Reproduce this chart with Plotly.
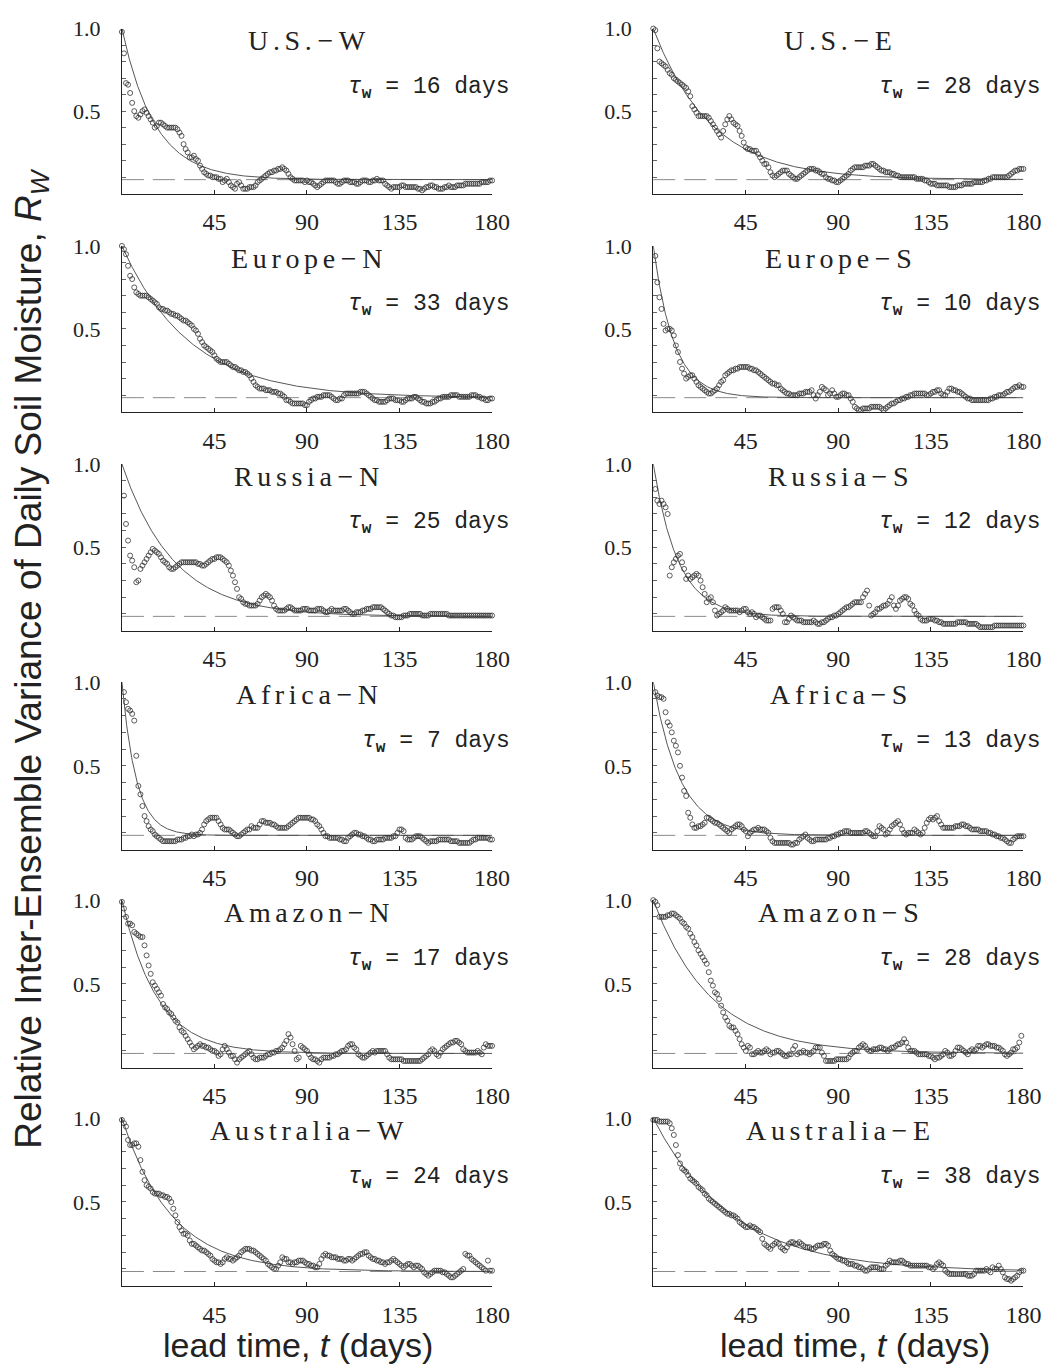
import numpy as np
import plotly.graph_objects as go

# Lead time in days (0 .. 180)
lead_days = list(range(181))

# Relative inter-ensemble variance R_W for each region, one value per day
us_w = [0.98, 0.85, 0.67, 0.66, 0.61, 0.55, 0.50, 0.47, 0.46, 0.48,
        0.50, 0.51, 0.49, 0.47, 0.45, 0.43, 0.40, 0.41, 0.43, 0.43,
        0.42, 0.41, 0.40, 0.40, 0.40, 0.40, 0.40, 0.39, 0.37, 0.35,
        0.30, 0.27, 0.25, 0.22, 0.22, 0.23, 0.21, 0.20, 0.17, 0.15,
        0.13, 0.12, 0.11, 0.11, 0.10, 0.10, 0.10, 0.09, 0.09, 0.07,
        0.08, 0.09, 0.07, 0.05, 0.04, 0.03, 0.06, 0.07, 0.05, 0.03,
        0.03, 0.03, 0.04, 0.04, 0.04, 0.05, 0.07, 0.08, 0.09, 0.10,
        0.11, 0.12, 0.13, 0.13, 0.14, 0.14, 0.15, 0.15, 0.16, 0.15,
        0.14, 0.12, 0.10, 0.09, 0.08, 0.08, 0.08, 0.08, 0.08, 0.07,
        0.08, 0.07, 0.07, 0.06, 0.05, 0.04, 0.05, 0.06, 0.07, 0.08,
        0.08, 0.08, 0.08, 0.08, 0.07, 0.06, 0.06, 0.07, 0.08, 0.08,
        0.08, 0.07, 0.07, 0.07, 0.06, 0.06, 0.07, 0.08, 0.08, 0.08,
        0.07, 0.07, 0.08, 0.08, 0.09, 0.08, 0.08, 0.08, 0.06, 0.05,
        0.04, 0.03, 0.04, 0.04, 0.04, 0.04, 0.05, 0.05, 0.04, 0.04,
        0.04, 0.04, 0.04, 0.04, 0.03, 0.03, 0.02, 0.03, 0.04, 0.04,
        0.05, 0.05, 0.04, 0.04, 0.03, 0.03, 0.03, 0.04, 0.04, 0.05,
        0.04, 0.04, 0.04, 0.05, 0.05, 0.05, 0.05, 0.06, 0.06, 0.06,
        0.06, 0.06, 0.06, 0.06, 0.06, 0.07, 0.07, 0.07, 0.07, 0.08,
        0.08]

us_e = [1.00, 0.99, 0.88, 0.80, 0.79, 0.78, 0.77, 0.75, 0.73, 0.72,
        0.70, 0.69, 0.68, 0.67, 0.66, 0.65, 0.64, 0.62, 0.59, 0.53,
        0.51, 0.49, 0.47, 0.47, 0.47, 0.47, 0.47, 0.46, 0.44, 0.42,
        0.40, 0.38, 0.36, 0.34, 0.38, 0.42, 0.45, 0.47, 0.45, 0.43,
        0.42, 0.41, 0.38, 0.35, 0.31, 0.28, 0.27, 0.27, 0.26, 0.26,
        0.26, 0.24, 0.22, 0.20, 0.18, 0.18, 0.16, 0.13, 0.11, 0.10,
        0.11, 0.12, 0.13, 0.14, 0.14, 0.14, 0.12, 0.11, 0.10, 0.09,
        0.09, 0.10, 0.11, 0.12, 0.13, 0.14, 0.15, 0.15, 0.15, 0.14,
        0.14, 0.13, 0.12, 0.12, 0.10, 0.09, 0.09, 0.08, 0.08, 0.07,
        0.07, 0.08, 0.09, 0.10, 0.11, 0.12, 0.14, 0.15, 0.16, 0.16,
        0.16, 0.16, 0.16, 0.17, 0.17, 0.17, 0.18, 0.18, 0.17, 0.16,
        0.15, 0.14, 0.14, 0.13, 0.13, 0.13, 0.12, 0.12, 0.11, 0.11,
        0.10, 0.10, 0.10, 0.10, 0.10, 0.10, 0.10, 0.10, 0.09, 0.09,
        0.09, 0.09, 0.08, 0.08, 0.07, 0.06, 0.06, 0.06, 0.05, 0.05,
        0.05, 0.05, 0.05, 0.05, 0.04, 0.04, 0.04, 0.04, 0.05, 0.05,
        0.05, 0.06, 0.06, 0.06, 0.06, 0.06, 0.07, 0.07, 0.07, 0.07,
        0.07, 0.08, 0.08, 0.09, 0.09, 0.10, 0.10, 0.10, 0.10, 0.10,
        0.10, 0.10, 0.10, 0.11, 0.12, 0.13, 0.14, 0.14, 0.15, 0.15,
        0.15]

europe_n = [1.00, 0.98, 0.95, 0.88, 0.82, 0.80, 0.75, 0.72, 0.71, 0.70,
            0.70, 0.70, 0.70, 0.69, 0.68, 0.67, 0.66, 0.65, 0.63, 0.62,
            0.62, 0.61, 0.61, 0.60, 0.59, 0.59, 0.58, 0.58, 0.57, 0.56,
            0.55, 0.55, 0.54, 0.53, 0.52, 0.50, 0.49, 0.47, 0.44, 0.42,
            0.40, 0.39, 0.38, 0.37, 0.36, 0.34, 0.32, 0.31, 0.30, 0.30,
            0.30, 0.30, 0.29, 0.28, 0.27, 0.27, 0.26, 0.25, 0.25, 0.24,
            0.24, 0.23, 0.22, 0.20, 0.18, 0.16, 0.15, 0.14, 0.14, 0.14,
            0.13, 0.13, 0.13, 0.12, 0.12, 0.12, 0.11, 0.11, 0.10, 0.09,
            0.07, 0.07, 0.06, 0.05, 0.05, 0.05, 0.05, 0.05, 0.05, 0.04,
            0.04, 0.06, 0.07, 0.08, 0.08, 0.09, 0.09, 0.09, 0.10, 0.10,
            0.10, 0.10, 0.09, 0.08, 0.07, 0.07, 0.08, 0.08, 0.10, 0.11,
            0.11, 0.11, 0.11, 0.11, 0.11, 0.11, 0.12, 0.12, 0.12, 0.11,
            0.10, 0.09, 0.08, 0.07, 0.07, 0.06, 0.06, 0.06, 0.06, 0.07,
            0.08, 0.08, 0.08, 0.07, 0.07, 0.07, 0.06, 0.06, 0.07, 0.08,
            0.08, 0.08, 0.09, 0.09, 0.08, 0.07, 0.06, 0.06, 0.05, 0.05,
            0.05, 0.06, 0.06, 0.07, 0.08, 0.08, 0.09, 0.09, 0.09, 0.09,
            0.10, 0.10, 0.10, 0.10, 0.09, 0.09, 0.09, 0.09, 0.09, 0.09,
            0.10, 0.10, 0.10, 0.09, 0.09, 0.08, 0.08, 0.07, 0.07, 0.08,
            0.08]

europe_s = [None, 0.94, 0.78, 0.69, 0.62, 0.53, 0.49, 0.50, 0.50, 0.49,
            0.46, 0.40, 0.36, 0.30, 0.26, 0.23, 0.20, 0.21, 0.22, 0.22,
            0.20, 0.18, 0.16, 0.15, 0.14, 0.13, 0.12, 0.11, 0.11, 0.12,
            0.13, 0.14, 0.16, 0.18, 0.19, 0.22, 0.23, 0.24, 0.25, 0.25,
            0.26, 0.26, 0.27, 0.27, 0.27, 0.27, 0.27, 0.26, 0.26, 0.25,
            0.25, 0.24, 0.23, 0.22, 0.21, 0.20, 0.19, 0.18, 0.17, 0.17,
            0.16, 0.16, 0.14, 0.13, 0.12, 0.11, 0.11, 0.10, 0.10, 0.10,
            0.10, 0.11, 0.11, 0.11, 0.12, 0.12, 0.12, 0.13, 0.10, 0.08,
            0.10, 0.12, 0.15, 0.14, 0.13, 0.10, 0.11, 0.13, 0.11, 0.09,
            0.09, 0.10, 0.11, 0.11, 0.10, 0.10, 0.08, 0.06, 0.03, 0.02,
            0.01, 0.01, 0.02, 0.02, 0.02, 0.02, 0.03, 0.03, 0.03, 0.03,
            0.03, 0.02, 0.01, 0.02, 0.03, 0.04, 0.05, 0.05, 0.06, 0.07,
            0.07, 0.08, 0.08, 0.09, 0.09, 0.10, 0.10, 0.11, 0.11, 0.11,
            0.11, 0.11, 0.11, 0.10, 0.10, 0.11, 0.12, 0.12, 0.13, 0.13,
            0.11, 0.10, 0.10, 0.12, 0.14, 0.14, 0.13, 0.13, 0.12, 0.12,
            0.11, 0.10, 0.09, 0.08, 0.08, 0.07, 0.07, 0.07, 0.07, 0.07,
            0.07, 0.07, 0.07, 0.07, 0.08, 0.08, 0.09, 0.09, 0.10, 0.10,
            0.10, 0.11, 0.12, 0.12, 0.13, 0.14, 0.15, 0.15, 0.16, 0.15,
            0.15]

russia_n = [None, 0.81, 0.64, 0.54, 0.45, 0.42, 0.38, 0.29, 0.30, 0.37,
            0.39, 0.41, 0.43, 0.45, 0.47, 0.49, 0.48, 0.47, 0.46, 0.44,
            0.42, 0.41, 0.40, 0.38, 0.37, 0.37, 0.38, 0.39, 0.40, 0.41,
            0.41, 0.41, 0.41, 0.41, 0.41, 0.41, 0.41, 0.40, 0.40, 0.39,
            0.39, 0.40, 0.41, 0.42, 0.43, 0.43, 0.44, 0.44, 0.44, 0.43,
            0.42, 0.41, 0.39, 0.36, 0.33, 0.29, 0.25, 0.20, 0.19, 0.17,
            0.16, 0.16, 0.15, 0.15, 0.15, 0.15, 0.16, 0.18, 0.20, 0.21,
            0.22, 0.21, 0.20, 0.18, 0.15, 0.13, 0.12, 0.12, 0.12, 0.12,
            0.13, 0.14, 0.14, 0.13, 0.12, 0.12, 0.12, 0.12, 0.13, 0.13,
            0.13, 0.12, 0.12, 0.12, 0.12, 0.13, 0.13, 0.13, 0.12, 0.11,
            0.11, 0.12, 0.13, 0.12, 0.12, 0.12, 0.12, 0.12, 0.13, 0.13,
            0.12, 0.11, 0.10, 0.10, 0.11, 0.11, 0.11, 0.12, 0.12, 0.13,
            0.13, 0.13, 0.14, 0.14, 0.14, 0.14, 0.14, 0.13, 0.12, 0.11,
            0.10, 0.09, 0.09, 0.08, 0.08, 0.08, 0.08, 0.09, 0.09, 0.09,
            0.10, 0.10, 0.10, 0.10, 0.10, 0.10, 0.09, 0.09, 0.09, 0.09,
            0.10, 0.10, 0.10, 0.10, 0.10, 0.10, 0.10, 0.10, 0.10, 0.09,
            0.09, 0.09, 0.09, 0.09, 0.09, 0.09, 0.09, 0.09, 0.09, 0.09,
            0.09, 0.09, 0.09, 0.09, 0.09, 0.09, 0.09, 0.09, 0.09, 0.09,
            0.09]

russia_s = [None, 0.85, 0.78, 0.76, 0.78, 0.76, 0.74, 0.70, 0.33, 0.38,
            0.41, 0.43, 0.45, 0.46, 0.41, 0.37, 0.31, 0.33, 0.31, 0.32,
            0.33, 0.34, 0.33, 0.30, 0.26, 0.22, 0.17, 0.19, 0.20, 0.17,
            0.12, 0.09, 0.10, 0.11, 0.12, 0.14, 0.13, 0.12, 0.12, 0.12,
            0.12, 0.12, 0.11, 0.12, 0.13, 0.13, 0.11, 0.10, 0.11, 0.10,
            0.08, 0.09, 0.09, 0.08, 0.07, 0.06, 0.06, 0.06, 0.13, 0.14,
            0.14, 0.14, 0.12, 0.10, 0.05, 0.05, 0.07, 0.09, 0.08, 0.07,
            0.06, 0.06, 0.06, 0.05, 0.05, 0.05, 0.05, 0.05, 0.06, 0.05,
            0.04, 0.04, 0.05, 0.05, 0.06, 0.07, 0.08, 0.08, 0.09, 0.09,
            0.10, 0.11, 0.12, 0.13, 0.14, 0.14, 0.15, 0.16, 0.17, 0.17,
            0.17, 0.17, 0.20, 0.22, 0.24, 0.15, 0.09, 0.10, 0.11, 0.13,
            0.13, 0.14, 0.15, 0.15, 0.16, 0.18, 0.20, 0.15, 0.13, 0.15,
            0.18, 0.19, 0.20, 0.20, 0.19, 0.16, 0.15, 0.12, 0.10, 0.09,
            0.07, 0.06, 0.06, 0.06, 0.07, 0.07, 0.07, 0.06, 0.06, 0.05,
            0.05, 0.04, 0.04, 0.04, 0.04, 0.04, 0.04, 0.04, 0.05, 0.05,
            0.05, 0.05, 0.05, 0.04, 0.04, 0.04, 0.04, 0.04, 0.03, 0.02,
            0.02, 0.02, 0.02, 0.02, 0.02, 0.02, 0.03, 0.03, 0.03, 0.03,
            0.03, 0.03, 0.03, 0.03, 0.03, 0.03, 0.03, 0.03, 0.03, 0.03,
            0.03]

africa_n = [None, 0.94, 0.88, 0.84, 0.83, 0.81, 0.77, 0.56, 0.38, 0.33,
            0.26, 0.20, 0.17, 0.14, 0.12, 0.11, 0.09, 0.08, 0.07, 0.06,
            0.05, 0.05, 0.05, 0.05, 0.05, 0.05, 0.05, 0.06, 0.06, 0.06,
            0.07, 0.07, 0.08, 0.08, 0.09, 0.08, 0.09, 0.09, 0.10, 0.12,
            0.15, 0.17, 0.18, 0.19, 0.19, 0.19, 0.19, 0.17, 0.15, 0.13,
            0.12, 0.12, 0.12, 0.11, 0.10, 0.09, 0.08, 0.08, 0.09, 0.10,
            0.11, 0.12, 0.12, 0.14, 0.13, 0.13, 0.13, 0.15, 0.17, 0.17,
            0.16, 0.16, 0.16, 0.15, 0.15, 0.14, 0.13, 0.13, 0.13, 0.13,
            0.13, 0.14, 0.15, 0.16, 0.17, 0.18, 0.19, 0.19, 0.19, 0.19,
            0.19, 0.19, 0.18, 0.18, 0.17, 0.15, 0.14, 0.12, 0.10, 0.08,
            0.08, 0.07, 0.07, 0.07, 0.07, 0.07, 0.06, 0.06, 0.05, 0.05,
            0.07, 0.08, 0.09, 0.10, 0.10, 0.09, 0.09, 0.08, 0.08, 0.07,
            0.06, 0.06, 0.05, 0.05, 0.06, 0.06, 0.06, 0.06, 0.07, 0.07,
            0.07, 0.07, 0.08, 0.08, 0.10, 0.12, 0.12, 0.11, 0.07, 0.06,
            0.06, 0.06, 0.07, 0.08, 0.08, 0.08, 0.07, 0.06, 0.05, 0.04,
            0.05, 0.05, 0.05, 0.05, 0.06, 0.06, 0.06, 0.06, 0.06, 0.06,
            0.05, 0.05, 0.05, 0.05, 0.04, 0.04, 0.04, 0.04, 0.04, 0.04,
            0.05, 0.06, 0.06, 0.07, 0.07, 0.07, 0.07, 0.07, 0.07, 0.06,
            0.06]

africa_s = [None, 0.94, 0.92, 0.91, 0.91, 0.90, 0.82, 0.76, 0.74, 0.70,
            0.65, 0.62, 0.58, 0.50, 0.43, 0.35, 0.32, 0.22, 0.19, 0.15,
            0.13, 0.13, 0.14, 0.14, 0.15, 0.16, 0.19, 0.19, 0.18, 0.17,
            0.16, 0.16, 0.15, 0.14, 0.13, 0.12, 0.11, 0.10, 0.12, 0.13,
            0.14, 0.15, 0.15, 0.14, 0.12, 0.11, 0.08, 0.10, 0.11, 0.12,
            0.12, 0.13, 0.12, 0.12, 0.12, 0.11, 0.10, 0.07, 0.05, 0.04,
            0.04, 0.04, 0.04, 0.04, 0.04, 0.04, 0.04, 0.03, 0.03, 0.04,
            0.04, 0.06, 0.07, 0.08, 0.09, 0.07, 0.06, 0.05, 0.05, 0.06,
            0.06, 0.06, 0.06, 0.06, 0.06, 0.07, 0.07, 0.08, 0.08, 0.09,
            0.09, 0.10, 0.10, 0.11, 0.11, 0.11, 0.10, 0.10, 0.10, 0.10,
            0.10, 0.10, 0.10, 0.11, 0.11, 0.10, 0.09, 0.08, 0.08, 0.11,
            0.14, 0.13, 0.12, 0.09, 0.10, 0.12, 0.14, 0.15, 0.16, 0.17,
            0.15, 0.12, 0.10, 0.09, 0.10, 0.10, 0.10, 0.12, 0.11, 0.10,
            0.09, 0.10, 0.13, 0.16, 0.18, 0.19, 0.18, 0.19, 0.20, 0.17,
            0.15, 0.13, 0.13, 0.13, 0.13, 0.13, 0.13, 0.14, 0.14, 0.14,
            0.15, 0.15, 0.14, 0.14, 0.13, 0.12, 0.12, 0.12, 0.12, 0.11,
            0.11, 0.11, 0.11, 0.10, 0.10, 0.09, 0.09, 0.08, 0.08, 0.07,
            0.07, 0.06, 0.05, 0.04, 0.04, 0.06, 0.07, 0.08, 0.08, 0.08,
            0.08]

amazon_n = [0.99, 0.95, 0.90, 0.86, 0.86, 0.85, 0.81, 0.80, 0.79, 0.78,
            0.78, 0.73, 0.67, 0.61, 0.56, 0.51, 0.49, 0.47, 0.45, 0.43,
            0.38, 0.36, 0.35, 0.33, 0.32, 0.30, 0.28, 0.27, 0.24, 0.22,
            0.21, 0.19, 0.17, 0.15, 0.13, 0.11, 0.12, 0.13, 0.14, 0.13,
            0.13, 0.12, 0.12, 0.11, 0.10, 0.10, 0.09, 0.07, 0.08, 0.11,
            0.13, 0.11, 0.09, 0.07, 0.07, 0.05, 0.03, 0.05, 0.06, 0.07,
            0.08, 0.09, 0.10, 0.08, 0.06, 0.05, 0.05, 0.06, 0.06, 0.06,
            0.07, 0.08, 0.08, 0.09, 0.09, 0.10, 0.10, 0.11, 0.12, 0.14,
            0.16, 0.20, 0.18, 0.14, 0.10, 0.05, 0.06, 0.13, 0.12, 0.11,
            0.10, 0.08, 0.06, 0.05, 0.05, 0.04, 0.03, 0.05, 0.06, 0.06,
            0.06, 0.06, 0.07, 0.07, 0.08, 0.08, 0.09, 0.10, 0.10, 0.11,
            0.13, 0.14, 0.14, 0.12, 0.11, 0.08, 0.07, 0.06, 0.06, 0.07,
            0.08, 0.09, 0.10, 0.09, 0.10, 0.10, 0.10, 0.10, 0.10, 0.08,
            0.06, 0.05, 0.05, 0.05, 0.05, 0.05, 0.05, 0.04, 0.04, 0.04,
            0.04, 0.04, 0.04, 0.04, 0.04, 0.04, 0.05, 0.06, 0.07, 0.08,
            0.10, 0.11, 0.10, 0.08, 0.07, 0.09, 0.11, 0.12, 0.13, 0.14,
            0.15, 0.15, 0.16, 0.16, 0.15, 0.14, 0.11, 0.10, 0.09, 0.09,
            0.09, 0.09, 0.09, 0.10, 0.09, 0.08, 0.12, 0.14, 0.13, 0.13,
            0.13]

amazon_s = [1.00, 0.99, 0.97, 0.90, 0.90, 0.90, 0.90, 0.91, 0.91, 0.92,
            0.92, 0.91, 0.90, 0.89, 0.87, 0.86, 0.84, 0.83, 0.80, 0.78,
            0.75, 0.73, 0.70, 0.68, 0.66, 0.64, 0.62, 0.57, 0.52, 0.49,
            0.45, 0.44, 0.41, 0.37, 0.33, 0.30, 0.28, 0.25, 0.24, 0.24,
            0.22, 0.20, 0.17, 0.14, 0.12, 0.10, 0.13, 0.12, 0.08, 0.08,
            0.09, 0.10, 0.09, 0.09, 0.10, 0.11, 0.10, 0.08, 0.09, 0.09,
            0.10, 0.10, 0.09, 0.08, 0.07, 0.07, 0.08, 0.08, 0.11, 0.13,
            0.08, 0.09, 0.09, 0.10, 0.09, 0.09, 0.08, 0.09, 0.10, 0.12,
            0.12, 0.12, 0.09, 0.07, 0.04, 0.04, 0.04, 0.04, 0.04, 0.05,
            0.05, 0.05, 0.05, 0.05, 0.05, 0.06, 0.08, 0.09, 0.10, 0.10,
            0.12, 0.13, 0.14, 0.13, 0.11, 0.10, 0.10, 0.11, 0.11, 0.11,
            0.12, 0.12, 0.11, 0.11, 0.10, 0.11, 0.12, 0.12, 0.13, 0.14,
            0.14, 0.15, 0.17, 0.15, 0.12, 0.10, 0.10, 0.10, 0.09, 0.08,
            0.08, 0.08, 0.08, 0.08, 0.07, 0.07, 0.06, 0.05, 0.06, 0.06,
            0.07, 0.08, 0.10, 0.09, 0.07, 0.07, 0.08, 0.10, 0.12, 0.12,
            0.11, 0.10, 0.09, 0.08, 0.10, 0.11, 0.10, 0.11, 0.13, 0.13,
            0.12, 0.13, 0.14, 0.14, 0.13, 0.13, 0.13, 0.12, 0.12, 0.11,
            0.10, 0.08, 0.07, 0.08, 0.09, 0.11, 0.11, 0.12, 0.15, 0.19,
            None]

australia_w = [0.99, 0.97, 0.95, 0.87, 0.84, 0.84, 0.85, 0.85, 0.83, 0.75,
               0.68, 0.63, 0.60, 0.59, 0.58, 0.56, 0.55, 0.55, 0.55, 0.54,
               0.54, 0.53, 0.53, 0.52, 0.50, 0.46, 0.42, 0.38, 0.35, 0.33,
               0.31, 0.31, 0.30, 0.27, 0.25, 0.25, 0.24, 0.23, 0.22, 0.21,
               0.21, 0.20, 0.19, 0.18, 0.16, 0.15, 0.14, 0.14, 0.13, 0.14,
               0.16, 0.17, 0.16, 0.16, 0.15, 0.16, 0.17, 0.18, 0.20, 0.21,
               0.22, 0.22, 0.22, 0.21, 0.21, 0.20, 0.19, 0.18, 0.17, 0.16,
               0.15, 0.13, 0.12, 0.11, 0.10, 0.10, 0.12, 0.14, 0.17, 0.16,
               0.16, 0.14, 0.14, 0.13, 0.14, 0.14, 0.15, 0.15, 0.15, 0.14,
               0.13, 0.13, 0.12, 0.12, 0.11, 0.11, 0.13, 0.16, 0.18, 0.19,
               0.18, 0.18, 0.17, 0.17, 0.17, 0.16, 0.16, 0.16, 0.15, 0.15,
               0.16, 0.16, 0.15, 0.16, 0.17, 0.18, 0.19, 0.19, 0.20, 0.20,
               0.18, 0.17, 0.16, 0.16, 0.15, 0.15, 0.14, 0.14, 0.13, 0.14,
               0.14, 0.15, 0.16, 0.15, 0.14, 0.13, 0.12, 0.11, 0.12, 0.13,
               0.13, 0.12, 0.11, 0.12, 0.12, 0.11, 0.10, 0.08, 0.07, 0.06,
               0.07, 0.08, 0.09, 0.09, 0.09, 0.09, 0.08, 0.08, 0.07, 0.06,
               0.05, 0.05, 0.06, 0.07, 0.08, 0.09, 0.10, 0.19, 0.18, 0.18,
               0.16, 0.15, 0.14, 0.13, 0.12, 0.11, 0.10, 0.09, 0.15, 0.09,
               0.09]

australia_e = [0.99, 0.99, 0.99, 0.98, 0.98, 0.98, 0.98, 0.98, 0.97, 0.94,
               0.90, 0.84, 0.78, 0.73, 0.70, 0.69, 0.68, 0.66, 0.64, 0.63,
               0.62, 0.61, 0.59, 0.58, 0.57, 0.55, 0.54, 0.52, 0.51, 0.50,
               0.49, 0.48, 0.47, 0.46, 0.45, 0.44, 0.43, 0.43, 0.42, 0.42,
               0.41, 0.40, 0.38, 0.37, 0.36, 0.35, 0.35, 0.36, 0.35, 0.35,
               0.34, 0.33, 0.32, 0.28, 0.25, 0.24, 0.23, 0.22, 0.24, 0.25,
               0.26, 0.25, 0.23, 0.22, 0.21, 0.23, 0.25, 0.26, 0.26, 0.25,
               0.25, 0.26, 0.25, 0.24, 0.23, 0.23, 0.23, 0.22, 0.22, 0.23,
               0.24, 0.24, 0.24, 0.25, 0.25, 0.24, 0.21, 0.19, 0.18, 0.17,
               0.16, 0.16, 0.15, 0.15, 0.14, 0.13, 0.13, 0.13, 0.12, 0.12,
               0.11, 0.11, 0.10, 0.09, 0.09, 0.10, 0.11, 0.11, 0.11, 0.11,
               0.10, 0.10, 0.10, 0.12, 0.13, 0.15, 0.14, 0.14, 0.14, 0.14,
               0.15, 0.15, 0.14, 0.13, 0.13, 0.12, 0.12, 0.12, 0.12, 0.12,
               0.12, 0.12, 0.12, 0.12, 0.11, 0.11, 0.10, 0.11, 0.13, 0.14,
               0.13, 0.12, 0.09, 0.08, 0.07, 0.07, 0.07, 0.07, 0.07, 0.07,
               0.07, 0.07, 0.07, 0.06, 0.06, 0.06, 0.07, 0.09, 0.09, 0.09,
               0.09, 0.09, 0.10, 0.09, 0.08, 0.11, 0.10, 0.10, 0.12, 0.10,
               0.08, 0.05, 0.04, 0.04, 0.03, 0.04, 0.05, 0.06, 0.08, 0.09,
               0.09]

# region names as (area, sector) pairs, joined with a minus sign when drawn
region_parts = [("U.S.", "W"), ("U.S.", "E"), ("Europe", "N"), ("Europe", "S"),
                ("Russia", "N"), ("Russia", "S"), ("Africa", "N"), ("Africa", "S"),
                ("Amazon", "N"), ("Amazon", "S"), ("Australia", "W"), ("Australia", "E")]
tau_days = [16, 28, 33, 10, 25, 12, 7, 13, 17, 28, 24, 38]
region_values = [us_w, us_e, europe_n, europe_s, russia_n, russia_s,
                 africa_n, africa_s, amazon_n, amazon_s, australia_w, australia_e]

x_ticks = [45, 90, 135, 180]
y_labels = [0.5, 1.0]
y_minor = [0.1, 0.2, 0.3, 0.4, 0.6, 0.7, 0.8, 0.9]
saturation_level = 0.085   # level of the dashed reference line / asymptote of the fit

# ---- page geometry (pixels) ----
W, H = 1064, 1369
col_px = [(124.0, 500.5), (664.5, 1041.0)]
row_px = [(16.7, 183.3), (236.0, 403.3), (456.0, 624.0),
          (676.0, 845.0), (896.0, 1065.0), (1116.0, 1285.0)]

SERIF = "Liberation Serif"
MONO = "Liberation Mono"
SANS = "Liberation Sans"
INK = "#222222"


def tracked(word):
    """Letter-spaced word (six-per-em spaces between glyphs)."""
    return "\u2006".join(word)


def region_title(area, sector):
    return tracked(area) + "\u2009\u2212\u2009" + sector


fig = go.Figure()
layout_axes = {}
annotations = []

for i, ((area, sector), tau, vals) in enumerate(zip(region_parts, tau_days, region_values)):
    r, c = divmod(i, 2)
    n = i + 1
    xa = "x" if n == 1 else f"x{n}"
    ya = "y" if n == 1 else f"y{n}"

    # dashed saturation level
    fig.add_trace(go.Scatter(
        x=[0, 180], y=[saturation_level, saturation_level], mode="lines",
        line=dict(color="#8a8a8a", width=1, dash="22px,9px"),
        xaxis=xa, yaxis=ya, showlegend=False, hoverinfo="skip"))

    # exponential fit with e-folding time tau
    t = np.linspace(0, 180, 721)
    fit = saturation_level + (1 - saturation_level) * np.exp(-t / tau)
    fig.add_trace(go.Scatter(
        x=t, y=fit, mode="lines", line=dict(color="#444444", width=0.9),
        xaxis=xa, yaxis=ya, showlegend=False, hoverinfo="skip"))

    # daily values
    fig.add_trace(go.Scatter(
        x=lead_days, y=vals, mode="markers",
        marker=dict(symbol="circle-open", size=5, color="#333333",
                    line=dict(width=0.8, color="#333333")),
        cliponaxis=False, xaxis=xa, yaxis=ya, showlegend=False))

    x0, x1 = col_px[c]
    top, bot = row_px[r]
    layout_axes["xaxis" if n == 1 else f"xaxis{n}"] = dict(
        domain=[x0 / W, x1 / W], range=[0, 180], anchor=ya,
        tickvals=x_ticks, ticktext=[str(v) for v in x_ticks],
        ticks="inside", ticklen=4, tickwidth=1, tickcolor=INK,
        showline=True, linecolor=INK, linewidth=1,
        showgrid=False, zeroline=False, ticklabelstandoff=7,
        tickfont=dict(family=SERIF, size=24, color=INK))
    layout_axes["yaxis" if n == 1 else f"yaxis{n}"] = dict(
        domain=[1 - bot / H, 1 - top / H], range=[0, 1], anchor=xa,
        tickvals=y_labels, ticktext=[f"{v:.1f}" for v in y_labels],
        ticks="inside", ticklen=4, tickwidth=1, tickcolor="#666666",
        minor=dict(tickvals=y_minor, ticks="inside", ticklen=4,
                   tickwidth=1, tickcolor="#666666", showgrid=False),
        showline=True, linecolor=INK, linewidth=1,
        showgrid=False, zeroline=False, ticklabelstandoff=16,
        tickfont=dict(family=SERIF, size=22, color=INK))

    # region name and e-folding time, placed relative to the panel box
    annotations.append(dict(
        xref=f"{xa} domain", yref=f"{ya} domain", x=0.5, y=0.925,
        text=region_title(area, sector), showarrow=False,
        xanchor="center", yanchor="middle",
        font=dict(family=SERIF, size=28, color=INK)))
    annotations.append(dict(
        xref=f"{xa} domain", yref=f"{ya} domain", x=189.5 / 180, y=0.64,
        showarrow=False, xanchor="right", yanchor="middle",
        text=(f"<i>\u03c4</i><sub><b>w</b></sub>"
              f" = {tau} days"),
        font=dict(family=MONO, size=23, color=INK)))

# shared axis titles
annotations.append(dict(
    xref="paper", yref="paper", x=32 / W, y=1 - 652 / H, showarrow=False,
    textangle=-90, xanchor="center", yanchor="middle",
    text="Relative Inter-Ensemble Variance of Daily Soil Moisture, <i>R</i><sub><i>W</i></sub>",
    font=dict(family=SANS, size=37, color=INK)))
for cx in (303, 870):
    annotations.append(dict(
        xref="paper", yref="paper", x=cx / W, y=1 - 1345 / H, showarrow=False,
        xanchor="center", yanchor="middle",
        text="lead time, <i>t</i> (days)",
        font=dict(family=SANS, size=34, color=INK)))

fig.update_layout(
    width=W, height=H, margin=dict(l=0, r=0, t=0, b=0),
    paper_bgcolor="white", plot_bgcolor="white",
    showlegend=False, annotations=annotations, **layout_axes)

fig.write_html("out.html")
